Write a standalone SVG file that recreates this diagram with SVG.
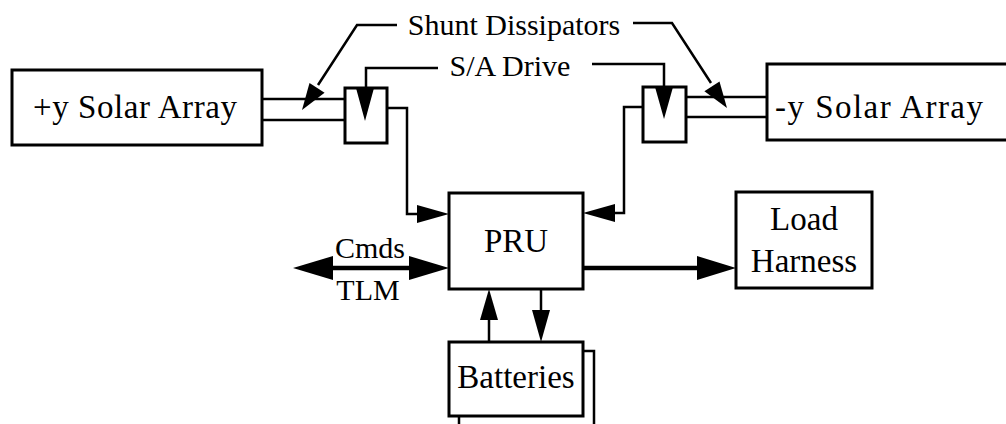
<svg xmlns="http://www.w3.org/2000/svg" width="1006" height="424" viewBox="0 0 1006 424">
<defs>
<style>
.box{fill:#fff;stroke:#000;stroke-width:3}
.ln{fill:none;stroke:#000;stroke-width:2.5}
.thick{fill:none;stroke:#000;stroke-width:4.5}
.head{fill:#000;stroke:none}
.lbl{font-family:"Liberation Serif","Times New Roman",serif;font-size:33px;fill:#000;text-anchor:middle}
.sm{font-family:"Liberation Serif","Times New Roman",serif;font-size:30px;fill:#000;text-anchor:middle}
.tri{fill:#000}
</style>
</defs>
<rect width="1006" height="424" fill="#fff"/>

<g id="connectors">
<path class="ln" d="M262,99 H345 M262,120 H345"/>
<path class="ln" d="M686,97 H767 M686,117 H767"/>
<path class="ln" d="M387,108 H407 V214 H420"/>
<path class="head" d="M449,214 L417,205 L417,223 Z"/>
<path class="ln" d="M643,107 H624 V213 H612"/>
<path class="head" d="M583,213 L615,204 L615,222 Z"/>
<path class="ln" d="M438,68 H366 V89"/>
<path class="ln" d="M592,64 H664 V87"/>
<path class="ln" d="M397,25 H357 L318,85"/>
<path class="head" d="M302,110 L309.5,83 L324.6,92.8 Z"/>
<path class="ln" d="M633,23 H672 L711,83"/>
<path class="head" d="M727,108 L704.4,91.3 L719.5,81.5 Z"/>
<path class="thick" d="M330,268 H412"/>
<path class="head" d="M293,268 L333,256 L333,280 Z"/>
<path class="head" d="M449,268 L409,256 L409,280 Z"/>
<path class="thick" d="M583,268 H700"/>
<path class="head" d="M736,268 L697,256 L697,280 Z"/>
<path class="ln" d="M489,342 V318"/>
<path class="head" d="M489,289 L480,320 L498,320 Z"/>
<path class="ln" d="M541,289 V312"/>
<path class="head" d="M541,342 L532,310 L550,310 Z"/>
</g>

<g id="plus-y-solar-array">
<rect class="box" x="12" y="70" width="250" height="75"/>
<text class="lbl" x="135" y="118" textLength="204" lengthAdjust="spacing">+y Solar Array</text>
</g>

<g id="minus-y-solar-array">
<rect class="box" x="767" y="64" width="260" height="76"/>
<text class="lbl" x="879" y="118" textLength="208" lengthAdjust="spacing">-y Solar Array</text>
</g>

<g id="left-sa-drive">
<rect class="box" x="345" y="88" width="42" height="55"/>
<path class="tri" d="M356,88 L374,88 L365,121 Z"/>
</g>

<g id="right-sa-drive">
<rect class="box" x="643" y="87" width="43" height="55"/>
<path class="tri" d="M655,87 L673,87 L664,119 Z"/>
</g>

<g id="shunt-dissipators-label">
<text class="sm" x="514" y="35">Shunt Dissipators</text>
</g>

<g id="sa-drive-label">
<text class="sm" x="510" y="76">S/A Drive</text>
</g>

<g id="pru">
<rect class="box" x="449" y="193" width="134" height="96"/>
<text class="lbl" x="516" y="252">PRU</text>
</g>

<g id="cmds-tlm-label">
<text class="sm" x="370" y="258">Cmds</text>
<text class="sm" x="368" y="300">TLM</text>
</g>

<g id="load-harness">
<rect class="box" x="736" y="192" width="136" height="96"/>
<text class="lbl" x="804" y="230">Load</text>
<text class="lbl" x="804" y="272">Harness</text>
</g>

<g id="batteries">
<path class="ln" d="M583,351 H594 V430 M459,416 V430"/>
<rect class="box" x="449" y="342" width="134" height="74"/>
<text class="lbl" x="516" y="388">Batteries</text>
</g>
</svg>
